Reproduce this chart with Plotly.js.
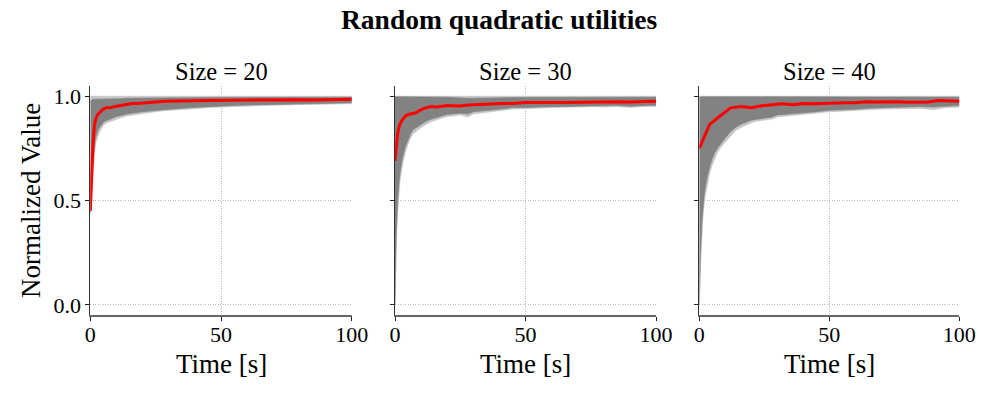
<!DOCTYPE html>
<html>
<head>
<meta charset="utf-8">
<script src="https://cdn.plot.ly/plotly-3.0.1.min.js"></script>
<style>
  html, body { margin: 0; padding: 0; background: #fff; }
  #chart { width: 997px; height: 399px; }
</style>
</head>
<body>
<div id="chart"></div>
<script>
// time grid for the grey envelopes (and the size 20 / 30 means)
const tGrid = [0, 0.5, 1, 1.5, 2, 3, 4, 5, 6, 7, 8, 10, 12, 14, 16, 18, 20, 22, 25, 28, 30, 35, 40, 45, 50, 55, 60, 65, 70, 75, 80, 85, 90, 95, 100];
// size 40 mean is sampled more coarsely
const tCoarse = [0, 4, 8, 12, 16, 20, 24, 28, 32, 36, 40, 44, 48, 52, 56, 60, 64, 68, 72, 76, 80, 84, 88, 92, 96, 100];

const sizeTitles = ["Size = 20", "Size = 30", "Size = 40"];

// Size = 20
const mean20 = [0.45, 0.62, 0.76, 0.85, 0.89, 0.915, 0.928, 0.938, 0.944, 0.945, 0.946, 0.952, 0.957, 0.962, 0.965, 0.965, 0.968, 0.969, 0.972, 0.975, 0.976, 0.977, 0.978, 0.979, 0.98, 0.98, 0.981, 0.981, 0.982, 0.982, 0.983, 0.982, 0.984, 0.984, 0.985];
const lowQ20 = [0.44, 0.58, 0.68, 0.75, 0.80, 0.84, 0.86, 0.875, 0.882, 0.888, 0.892, 0.902, 0.908, 0.914, 0.918, 0.922, 0.925, 0.928, 0.932, 0.936, 0.938, 0.942, 0.946, 0.95, 0.953, 0.955, 0.957, 0.959, 0.96, 0.962, 0.963, 0.964, 0.966, 0.967, 0.968];
const lowMin20 = [0.43, 0.55, 0.64, 0.71, 0.77, 0.81, 0.84, 0.86, 0.87, 0.875, 0.88, 0.89, 0.898, 0.905, 0.91, 0.913, 0.917, 0.92, 0.925, 0.93, 0.932, 0.937, 0.94, 0.945, 0.948, 0.95, 0.952, 0.955, 0.956, 0.958, 0.96, 0.96, 0.962, 0.963, 0.964];
const highQ20 = [0.98, 0.98, 0.985, 0.985, 0.985, 0.985, 0.985, 0.986, 0.986, 0.987, 0.987, 0.988, 0.988, 0.99, 0.99, 0.99, 0.991, 0.991, 0.992, 0.992, 0.992, 0.993, 0.993, 0.993, 0.994, 0.994, 0.994, 0.994, 0.995, 0.995, 0.995, 0.995, 0.995, 0.995, 0.995];

// Size = 30
const mean30 = [0.69, 0.76, 0.82, 0.85, 0.87, 0.89, 0.905, 0.912, 0.915, 0.916, 0.92, 0.935, 0.945, 0.95, 0.948, 0.952, 0.955, 0.954, 0.953, 0.957, 0.959, 0.961, 0.965, 0.965, 0.969, 0.968, 0.969, 0.97, 0.971, 0.973, 0.972, 0.973, 0.972, 0.975, 0.976];
const lowQ30 = [0.0, 0.35, 0.5, 0.58, 0.64, 0.71, 0.76, 0.79, 0.82, 0.84, 0.85, 0.865, 0.88, 0.89, 0.898, 0.905, 0.912, 0.915, 0.918, 0.914, 0.925, 0.93, 0.937, 0.945, 0.945, 0.948, 0.952, 0.953, 0.954, 0.955, 0.954, 0.955, 0.952, 0.955, 0.956];
const lowMin30 = [0.0, 0.3, 0.44, 0.53, 0.6, 0.68, 0.73, 0.77, 0.8, 0.82, 0.83, 0.85, 0.865, 0.878, 0.888, 0.895, 0.902, 0.905, 0.91, 0.9, 0.915, 0.922, 0.93, 0.938, 0.94, 0.942, 0.946, 0.948, 0.948, 0.95, 0.948, 0.95, 0.946, 0.95, 0.95];
const highQ30 = [0.997, 0.997, 0.997, 0.997, 0.997, 0.997, 0.997, 0.997, 0.997, 0.997, 0.997, 0.997, 0.997, 0.997, 0.996, 0.996, 0.995, 0.993, 0.99, 0.99, 0.99, 0.992, 0.993, 0.993, 0.994, 0.994, 0.994, 0.994, 0.995, 0.995, 0.995, 0.995, 0.995, 0.995, 0.995];

// Size = 40
const mean40 = [0.75, 0.865, 0.905, 0.944, 0.95, 0.944, 0.954, 0.958, 0.963, 0.959, 0.965, 0.964, 0.966, 0.967, 0.968, 0.968, 0.973, 0.972, 0.973, 0.973, 0.971, 0.971, 0.972, 0.979, 0.976, 0.976];
const lowQ40 = [0.0, 0.25, 0.40, 0.48, 0.54, 0.61, 0.66, 0.70, 0.73, 0.75, 0.77, 0.80, 0.83, 0.85, 0.865, 0.875, 0.885, 0.89, 0.895, 0.9, 0.91, 0.915, 0.92, 0.925, 0.932, 0.935, 0.937, 0.942, 0.945, 0.947, 0.948, 0.95, 0.948, 0.953, 0.955];
const lowMin40 = [0.0, 0.2, 0.34, 0.43, 0.5, 0.57, 0.63, 0.67, 0.7, 0.73, 0.75, 0.78, 0.81, 0.835, 0.85, 0.862, 0.872, 0.88, 0.886, 0.89, 0.9, 0.905, 0.912, 0.918, 0.925, 0.928, 0.93, 0.935, 0.938, 0.94, 0.94, 0.942, 0.935, 0.945, 0.947];
const highQ40 = [0.995, 0.997, 0.997, 0.997, 0.997, 0.997, 0.997, 0.997, 0.997, 0.997, 0.997, 0.997, 0.997, 0.996, 0.996, 0.996, 0.996, 0.995, 0.995, 0.995, 0.995, 0.995, 0.995, 0.995, 0.995, 0.995, 0.995, 0.995, 0.995, 0.995, 0.995, 0.995, 0.995, 0.995, 0.995];
const highMax = 1.0;

const panels = [
  { mean: mean20, tMean: tGrid, lowQ: lowQ20, lowMin: lowMin20, highQ: highQ20 },
  { mean: mean30, tMean: tGrid, lowQ: lowQ30, lowMin: lowMin30, highQ: highQ30 },
  { mean: mean40, tMean: tCoarse, lowQ: lowQ40, lowMin: lowMin40, highQ: highQ40 },
];

const xDomains = [[0.0906, 0.3528], [0.3962, 0.6580], [0.7014, 0.9622]];
const yDomain = [0.2098, 0.7852];
const serif = "Liberation Serif, Times New Roman, serif";

// closed polygon for a band between two curves
const band = (t, lo, hi) => ({
  x: t.concat(t.slice().reverse()),
  y: hi.concat(lo.slice().reverse()),
});

const traces = [];
panels.forEach((p, i) => {
  const suffix = i === 0 ? "" : String(i + 1);
  const xa = "x" + suffix;
  const ya = "y" + suffix;
  const topLine = tGrid.map(() => highMax);
  const outer = band(tGrid, p.lowMin, topLine);
  traces.push({ type: "scatter", mode: "lines", x: outer.x, y: outer.y, fill: "toself",
    fillcolor: "#c6c6c6", line: { width: 0.6, color: "#c6c6c6" }, xaxis: xa, yaxis: ya, hoverinfo: "skip" });
  const inner = band(tGrid, p.lowQ, p.highQ);
  traces.push({ type: "scatter", mode: "lines", x: inner.x, y: inner.y, fill: "toself",
    fillcolor: "#828282", line: { width: 0.6, color: "#828282" }, xaxis: xa, yaxis: ya, hoverinfo: "skip" });
  traces.push({ type: "scatter", mode: "lines", x: p.tMean, y: p.mean,
    line: { width: 3, color: "#ff0000" }, xaxis: xa, yaxis: ya });
});

const layout = {
  width: 997,
  height: 399,
  margin: { l: 0, r: 0, t: 0, b: 0 },
  paper_bgcolor: "#ffffff",
  plot_bgcolor: "#ffffff",
  showlegend: false,
  font: { family: serif, color: "#000", size: 22 },
  annotations: [],
};

for (let i = 0; i < 3; i++) {
  const suffix = i === 0 ? "" : String(i + 1);
  layout["xaxis" + suffix] = {
    domain: xDomains[i],
    anchor: "y" + suffix,
    range: [0, 100],
    tickvals: [0, 50, 100],
    ticks: "outside", ticklen: 4, tickwidth: 1, tickcolor: "#222",
    ticklabelstandoff: -6,
    showline: true, linecolor: "#666", linewidth: 2,
    showgrid: true, gridcolor: "#a8a8a8", gridwidth: 0.8, griddash: "1px,1.5px",
    zeroline: false,
    tickfont: { family: serif, size: 22, color: "#000" },
  };
  layout["yaxis" + suffix] = {
    domain: yDomain,
    anchor: "x" + suffix,
    range: [-0.05, 1.05],
    tickvals: [0, 0.5, 1],
    tickformat: ".1f",
    showticklabels: i === 0,
    ticks: "outside", ticklen: 4, tickwidth: 1, tickcolor: "#222",
    showline: true, linecolor: "#333", linewidth: 1,
    showgrid: true, gridcolor: "#a8a8a8", gridwidth: 0.8, griddash: "1px,1.5px",
    zeroline: false,
    tickfont: { family: serif, size: 22, color: "#000" },
  };
  const cx = (xDomains[i][0] + xDomains[i][1]) / 2;
  layout.annotations.push({
    text: sizeTitles[i], xref: "paper", yref: "paper", x: cx, y: 1 - 71 / 399,
    xanchor: "center", yanchor: "middle", showarrow: false,
    font: { family: serif, size: 24.5, color: "#000" },
  });
  layout.annotations.push({
    text: "Time [s]", xref: "paper", yref: "paper", x: cx, y: 1 - 364 / 399,
    xanchor: "center", yanchor: "middle", showarrow: false,
    font: { family: serif, size: 27, color: "#000" },
  });
}

layout.annotations.push({
  text: "<b>Random quadratic utilities</b>", xref: "paper", yref: "paper", x: 0.5015, y: 1 - 19 / 399,
  xanchor: "center", yanchor: "middle", showarrow: false,
  font: { family: serif, size: 27.5, color: "#000" },
});
layout.annotations.push({
  text: "Normalized Value", xref: "paper", yref: "paper", x: 31 / 997, y: 1 - 201 / 399,
  xanchor: "center", yanchor: "middle", textangle: -90, showarrow: false,
  font: { family: serif, size: 27, color: "#000" },
});

Plotly.newPlot("chart", traces, layout, { staticPlot: true, displayModeBar: false });
</script>
</body>
</html>
